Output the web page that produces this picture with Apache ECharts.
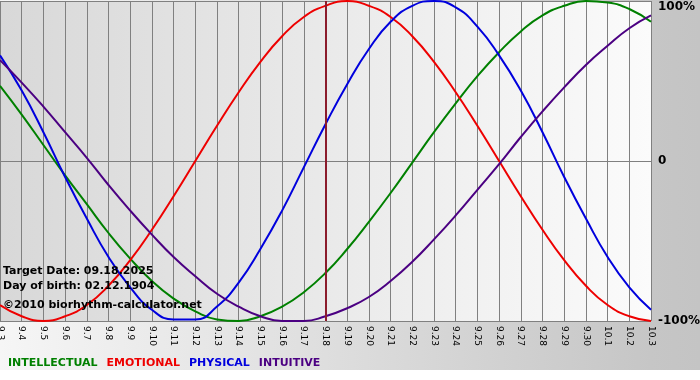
<!DOCTYPE html>
<html>
<head>
<meta charset="utf-8">
<script src="https://cdn.jsdelivr.net/npm/echarts@6/dist/echarts.min.js"></script>
<style>
	html, body { margin: 0; padding: 0; background: #ffffff; }
	#chart { width: 700px; height: 370px; }
</style>
</head>
<body>
<div id="chart"></div>
<script>
const days = ['9.3', '9.4', '9.5', '9.6', '9.7', '9.8', '9.9', '9.10', '9.11', '9.12', '9.13', '9.14', '9.15', '9.16', '9.17', '9.18',
	'9.19', '9.20', '9.21', '9.22', '9.23', '9.24', '9.25', '9.26', '9.27', '9.28', '9.29', '9.30', '10.1', '10.2', '10.3'];

const intellectual = [47, 29, 10, -9, -27, -45, -61, -75, -86, -94, -99, -100, -97, -91, -82, -70,
	-55, -38, -20, -1, 18, 36, 53, 68, 81, 91, 97, 100, 99, 95, 87];
const emotional = [-90, -97, -100, -97, -90, -78, -62, -43, -22, 0, 22, 43, 62, 78, 90, 97,
	100, 97, 90, 78, 62, 43, 22, 0, -22, -43, -62, -78, -90, -97, -100];
const physical = [66, 44, 18, -10, -36, -60, -79, -93, -99, -99, -91, -76, -55, -31, -4, 23,
	48, 70, 87, 97, 100, 96, 84, 66, 44, 18, -10, -36, -60, -79, -93];
const intuitive = [63, 49, 34, 18, 2, -15, -31, -46, -60, -72, -83, -91, -97, -100, -100, -97,
	-92, -85, -75, -63, -49, -34, -18, -2, 15, 31, 46, 60, 72, 83, 91];

const targetDay = '9.18';
const infoLines = ['Target Date: 09.18.2025', 'Day of birth: 02.12.1904', '\u00a92010 biorhythm-calculator.net'];

const font = 'DejaVu Sans';
const colors = {
	INTELLECTUAL: '#008000',
	EMOTIONAL: '#ee0000',
	PHYSICAL: '#0000dd',
	INTUITIVE: '#4b0082'
};

const chart = echarts.init(document.getElementById('chart'));

function lineSeries(name, data) {
	return {
		name: name,
		type: 'line',
		data: data,
		smooth: 0.5,
		symbol: 'none',
		silent: true,
		lineStyle: { width: 2, color: colors[name] },
		itemStyle: { color: colors[name] }
	};
}

const series = [
	lineSeries('INTELLECTUAL', intellectual),
	lineSeries('EMOTIONAL', emotional),
	lineSeries('PHYSICAL', physical),
	lineSeries('INTUITIVE', intuitive)
];
// target date marker
series[0].markLine = {
	silent: true,
	symbol: 'none',
	label: { show: false },
	lineStyle: { color: '#8b1c2c', width: 2, type: 'solid' },
	data: [{ xAxis: targetDay }]
};

const option = {
	animation: false,
	backgroundColor: {
		type: 'linear', x: 0, y: 0, x2: 1, y2: 0,
		colorStops: [
			{ offset: 0, color: '#f6f6f6' },
			{ offset: 0.93, color: '#c6c6c6' },
			{ offset: 1, color: '#c4c4c4' }
		]
	},
	grid: {
		left: 0,
		right: 49,
		top: 1,
		bottom: 49,
		outerBoundsMode: 'none',
		containLabel: false,
		show: true,
		borderWidth: 0,
		backgroundColor: {
			type: 'linear', x: 0, y: 0, x2: 1, y2: 0,
			colorStops: [
				{ offset: 0, color: '#d8d8d8' },
				{ offset: 1, color: '#fbfbfb' }
			]
		}
	},
	legend: {
		left: -2,
		top: 353,
		icon: 'none',
		itemWidth: 0,
		itemHeight: 10,
		itemGap: 4,
		selectedMode: false,
		textStyle: { fontFamily: font, fontWeight: 'bold', fontSize: 11 },
		data: Object.keys(colors).map(function (name) {
			return { name: name, textStyle: { color: colors[name] } };
		})
	},
	xAxis: {
		type: 'category',
		data: days,
		boundaryGap: false,
		axisLine: { show: true, lineStyle: { color: '#808080', width: 1 } },
		axisTick: { show: true, length: 4, interval: 0, lineStyle: { color: '#808080' } },
		axisLabel: {
			interval: 0,
			rotate: -90,
			margin: 5,
			fontFamily: font,
			fontSize: 9,
			color: '#000000'
		},
		splitLine: { show: true, interval: 0, lineStyle: { color: '#808080', width: 1 } }
	},
	yAxis: {
		type: 'value',
		position: 'right',
		min: -100,
		max: 100,
		interval: 100,
		axisLine: { show: false },
		axisTick: { show: false },
		axisLabel: {
			margin: 7,
			fontFamily: font,
			fontWeight: 'bold',
			fontSize: 12,
			color: '#000000',
			formatter: function (v) {
				if (v === 100) return '{top|100%}';
				return v === 0 ? '0' : v + '%';
			},
			rich: {
				top: { fontFamily: font, fontWeight: 'bold', fontSize: 12, color: '#000000', padding: [12, 0, 0, 0] }
			}
		},
		splitLine: { show: true, lineStyle: { color: '#808080', width: 1 } }
	},
	graphic: infoLines.map(function (t, i) {
		return {
			type: 'text',
			left: 3,
			top: [266, 281, 300][i],
			z: 100,
			style: { text: t, fill: '#000000', font: 'bold 11px "DejaVu Sans"' }
		};
	}),
	series: series
};

chart.setOption(option);
</script>
</body>
</html>
